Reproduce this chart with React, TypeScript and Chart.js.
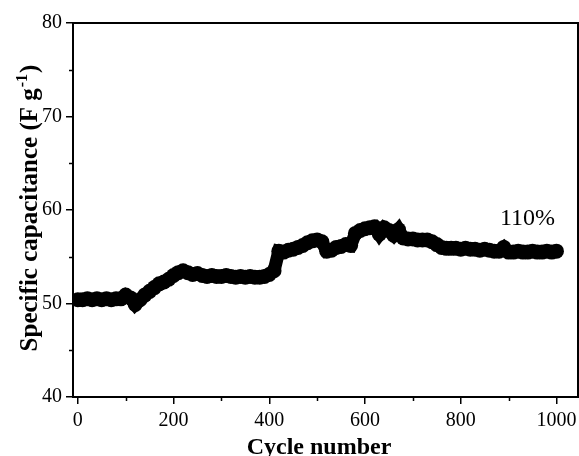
import React, { useEffect, useRef } from 'react';
import { Chart, registerables } from 'chart.js';

Chart.register(...registerables);

const cycles = [
  0, 10, 20, 30, 40, 50, 60, 70, 80, 90,
  100, 110, 120, 130, 140, 150, 160, 170, 180, 190,
  200, 210, 220, 230, 240, 250, 260, 270, 280, 290,
  300, 310, 320, 330, 340, 350, 360, 370, 380, 390,
  400, 410, 420, 430, 440, 450, 460, 470, 480, 490,
  500, 510, 520, 530, 540, 550, 560, 570, 580, 590,
  600, 610, 620, 630, 640, 650, 660, 670, 680, 690,
  700, 710, 720, 730, 740, 750, 760, 770, 780, 790,
  800, 810, 820, 830, 840, 850, 860, 870, 880, 890,
  900, 910, 920, 930, 940, 950, 960, 970, 980, 990, 1000,
];

const capacitance = [
  50.4, 50.4, 50.5, 50.4, 50.5, 50.4, 50.5, 50.4, 50.5, 50.5,
  50.9, 50.6, 49.9, 50.4, 50.9, 51.3, 51.7, 52.1, 52.3, 52.6,
  53.0, 53.3, 53.5, 53.3, 53.1, 53.2, 53.0, 52.9, 53.0, 52.9,
  52.9, 53.0, 52.9, 52.8, 52.9, 52.8, 52.9, 52.8, 52.8, 52.9,
  53.1, 53.5, 55.6, 55.5, 55.7, 55.8, 56.0, 56.2, 56.5, 56.7,
  56.8, 56.6, 55.6, 55.7, 56.0, 56.1, 56.3, 56.2, 57.5, 57.8,
  58.0, 58.1, 58.2, 57.4, 58.1, 57.8, 57.3, 57.9, 57.0, 56.9,
  56.9, 56.8, 56.8, 56.8, 56.6, 56.3, 56.0, 55.9, 55.9, 55.9,
  55.8, 55.9, 55.8, 55.8, 55.7, 55.8, 55.7, 55.6, 55.6, 56.0,
  55.5, 55.5, 55.6, 55.5, 55.5, 55.6, 55.5, 55.5, 55.6, 55.5, 55.6,
];

const xTicks = [0, 200, 400, 600, 800, 1000];
const xMinorTicks = [100, 300, 500, 700, 900];
const yTicks = [40, 50, 60, 70, 80];
const yMinorTicks = [45, 55, 65, 75];

const xTitle = 'Cycle number';
const yTitleMain = 'Specific capacitance (F g';
const yTitleSup = '-1';
const yTitleEnd = ')';
const annotationText = '110%';

const SERIF = '"Liberation Serif", "Times New Roman", serif';

const framePlugin = {
  id: 'frame',
  afterDraw(chart: any) {
    const { ctx, chartArea, scales } = chart;
    const { left, top, right, bottom } = chartArea;
    ctx.save();
    ctx.strokeStyle = '#000';
    ctx.lineWidth = 2;
    ctx.strokeRect(left, top, right - left, bottom - top);

    // minor ticks
    ctx.lineWidth = 1.5;
    ctx.beginPath();
    xMinorTicks.forEach((v) => {
      const px = Math.round(scales.x.getPixelForValue(v)) + 0.5;
      ctx.moveTo(px, bottom);
      ctx.lineTo(px, bottom + 4);
    });
    yMinorTicks.forEach((v) => {
      const py = Math.round(scales.y.getPixelForValue(v)) + 0.5;
      ctx.moveTo(left, py);
      ctx.lineTo(left - 4, py);
    });
    ctx.stroke();

    ctx.fillStyle = '#000';
    // x title
    ctx.font = `bold 24px ${SERIF}`;
    ctx.textAlign = 'center';
    ctx.textBaseline = 'alphabetic';
    ctx.fillText(xTitle, 319, 454);

    // annotation
    ctx.font = `24px ${SERIF}`;
    ctx.textAlign = 'left';
    ctx.fillText(annotationText, 500, 225);

    // y title with superscript
    const mainFont = `bold 25px ${SERIF}`;
    const supFont = `bold 16px ${SERIF}`;
    ctx.font = mainFont;
    const w1 = ctx.measureText(yTitleMain).width;
    const w3 = ctx.measureText(yTitleEnd).width;
    ctx.font = supFont;
    const w2 = ctx.measureText(yTitleSup).width;
    const total = w1 + w2 + w3 + 2;
    ctx.translate(37, 208);
    ctx.rotate(-Math.PI / 2);
    let xx = -total / 2;
    ctx.font = mainFont;
    ctx.fillText(yTitleMain, xx, 0);
    xx += w1 + 1;
    ctx.font = supFont;
    ctx.fillText(yTitleSup, xx, -10);
    xx += w2 + 1;
    ctx.font = mainFont;
    ctx.fillText(yTitleEnd, xx, 0);
    ctx.restore();
  },
};

export default function App() {
  const canvasRef = useRef<HTMLCanvasElement | null>(null);

  useEffect(() => {
    document.body.style.margin = '0';
    const canvas = canvasRef.current;
    if (!canvas) return;
    const chart = new Chart(canvas, {
      type: 'line',
      data: {
        datasets: [
          {
            data: cycles.map((c, i) => ({ x: c, y: capacitance[i] })),
            borderColor: '#000',
            backgroundColor: '#000',
            borderWidth: 13,
            pointRadius: 7.5,
            pointHoverRadius: 7.5,
            pointBorderWidth: 0,
            pointBackgroundColor: '#000',
            tension: 0,
            fill: false,
          },
        ],
      },
      options: {
        responsive: false,
        animation: false,
        events: [],
        layout: { autoPadding: false, padding: { top: 23, right: 1, left: 0, bottom: 0 } },
        plugins: {
          legend: { display: false },
          tooltip: { enabled: false },
          title: { display: false },
        },
        scales: {
          x: {
            type: 'linear',
            min: -10,
            max: 1045,
            afterBuildTicks: (s: any) => {
              s.ticks = xTicks.map((v) => ({ value: v }));
            },
            afterFit: (s: any) => {
              s.height = 59;
              s.paddingLeft = 0;
              s.paddingRight = 0;
            },
            ticks: {
              font: { family: SERIF, size: 20 },
              color: '#000',
              padding: 5,
              maxRotation: 0,
              autoSkip: false,
              callback: (v: any) => String(v),
            },
            grid: {
              display: true,
              drawOnChartArea: false,
              drawTicks: true,
              tickLength: 7,
              color: '#000',
              lineWidth: 1.5,
            },
            border: { display: true, color: '#000', width: 2 },
          },
          y: {
            type: 'linear',
            min: 40,
            max: 80,
            afterBuildTicks: (s: any) => {
              s.ticks = yTicks.map((v) => ({ value: v }));
            },
            afterFit: (s: any) => {
              s.width = 73;
              s.paddingTop = 0;
              s.paddingBottom = 0;
            },
            ticks: {
              font: { family: SERIF, size: 20 },
              color: '#000',
              padding: 4,
              autoSkip: false,
              callback: (v: any) => String(v),
            },
            grid: {
              display: true,
              drawOnChartArea: false,
              drawTicks: true,
              tickLength: 7,
              color: '#000',
              lineWidth: 1.5,
            },
            border: { display: true, color: '#000', width: 2 },
          },
        },
      },
      plugins: [framePlugin],
    });
    return () => chart.destroy();
  }, []);

  return (
    <div style={{ width: 579, height: 456, background: '#fff' }}>
      <canvas ref={canvasRef} width={579} height={456} />
    </div>
  );
}
